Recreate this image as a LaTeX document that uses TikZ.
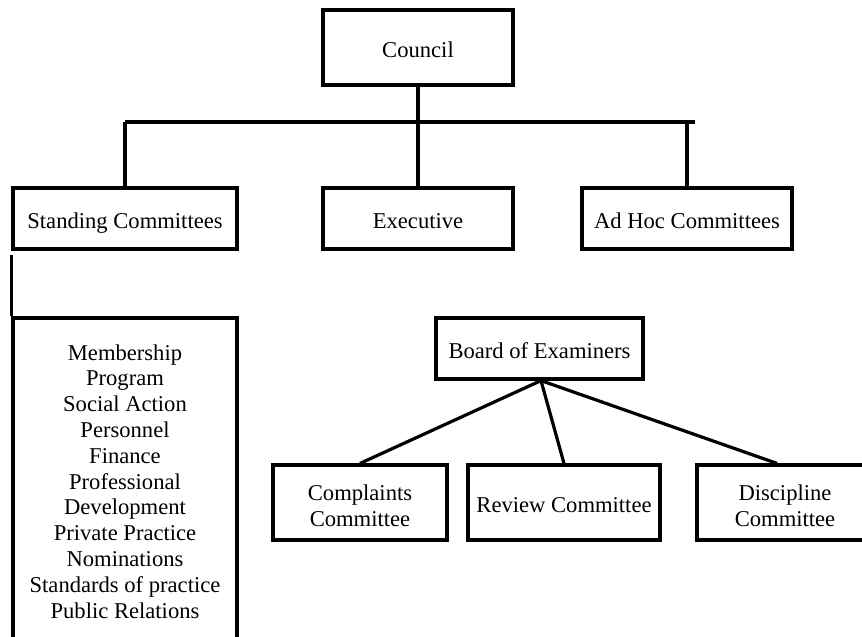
\documentclass[tikz,border=0pt]{standalone}
\usepackage{fontspec}
\setmainfont{Liberation Serif}
\begin{document}
\begin{tikzpicture}[x=1pt,y=-1pt,
  box/.style={draw=black, line width=3.2pt, rectangle, inner sep=0pt, fill=white},
  lbl/.style={anchor=base, inner sep=0pt, font=\fontsize{22.6pt}{26pt}\selectfont},
  link/.style={draw=black, line width=3.2pt}]
\useasboundingbox (0,0) rectangle (862,637);
\clip (0,0) rectangle (862,637);
\fill[white] (0,0) rectangle (862,637);

% top level
\node[box, minimum width=190pt, minimum height=75pt] (council) at (418,47.5) {};
\node[lbl] (councilT) at (418,57) {Council};

% second level
\node[box, minimum width=224pt, minimum height=61pt] (standing) at (125,218.5) {};
\node[lbl] (standingT) at (125,228) {Standing Committees};
\node[box, minimum width=190pt, minimum height=61pt] (exec) at (418,218.5) {};
\node[lbl] (execT) at (418,228) {Executive};
\node[box, minimum width=210pt, minimum height=61pt] (adhoc) at (687,218.5) {};
\node[lbl] (adhocT) at (687,228) {Ad Hoc Committees};

% bus joining the council to its three branches
\coordinate (busL) at (125,122);
\coordinate (busR) at (695,122);
\draw[link] (busL) -- (busR);
\draw[link] (council.south) -- (council.south |- busL);
\draw[link] (busL) -- (standing.north);
\draw[link] (exec.north |- busL) -- (exec.north);
\draw[link] (adhoc.north |- busL) -- (adhoc.north);

% list of standing committees
\node[box, minimum width=224pt, minimum height=382pt] (list) at (125,509) {};
\draw[link] ([yshift=-4pt]standing.south west) -- (list.north west);
\foreach \name [count=\i from 0] in {Membership, Program, Social Action, Personnel,
    Finance, Professional, Development, Private Practice, Nominations,
    Standards of practice, Public Relations}
  \node[lbl] (listT\i) at (125,360+25.8*\i) {\name};

% board of examiners and its committees
\node[box, minimum width=207pt, minimum height=61pt] (board) at (539.5,348.5) {};
\node[lbl] (boardT) at (539.5,358) {Board of Examiners};

\node[box, minimum width=174pt, minimum height=75pt] (complaints) at (360,502.5) {};
\node[lbl] (complaintsT1) at (360,500) {Complaints};
\node[lbl] (complaintsT2) at (360,526) {Committee};

\node[box, minimum width=192pt, minimum height=75pt] (review) at (564,502.5) {};
\node[lbl] (reviewT) at (564,512) {Review Committee};

\node[box, minimum width=176pt, minimum height=75pt] (discipline) at (785,502.5) {};
\node[lbl] (disciplineT1) at (785,500) {Discipline};
\node[lbl] (disciplineT2) at (785,526) {Committee};

\draw[link] ([xshift=1.5pt]board.south) -- (complaints.north);
\draw[link] ([xshift=1.5pt]board.south) -- (review.north);
\draw[link] ([xshift=1.5pt]board.south) -- ([xshift=-8pt]discipline.north);
\end{tikzpicture}
\end{document}
